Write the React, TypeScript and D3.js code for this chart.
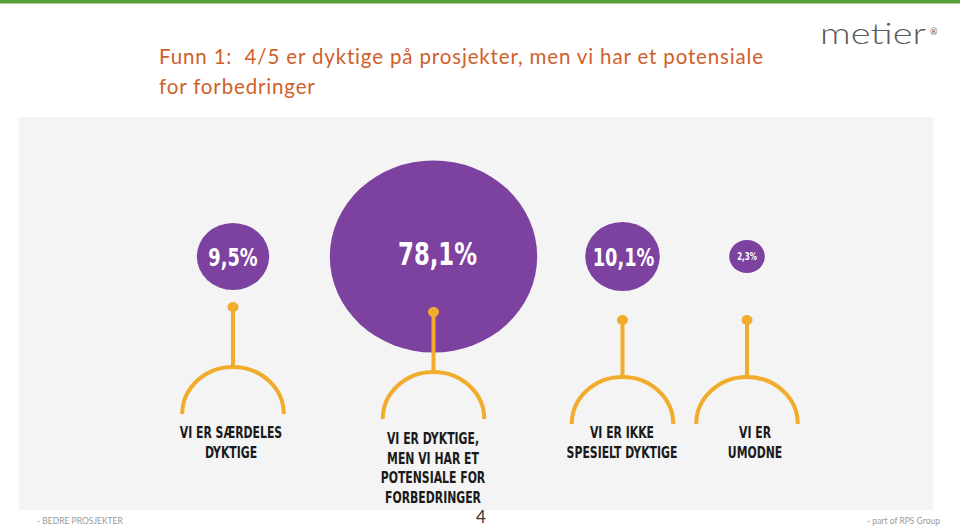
import React from "react";
import * as d3 from "d3";

// ---- data ----
const categories: string[][] = [
  ["VI ER SÆRDELES", "DYKTIGE"],
  ["VI ER DYKTIGE,", "MEN VI HAR ET", "POTENSIALE FOR", "FORBEDRINGER"],
  ["VI ER IKKE", "SPESIELT DYKTIGE"],
  ["VI ER", "UMODNE"],
];
const values = [9.5, 78.1, 10.1, 2.3];
const valueLabels = ["9,5%", "78,1%", "10,1%", "2,3%"];
const titleLines = [
  "Funn 1:\u00A0 4/5 er dyktige på prosjekter, men vi har et potensiale",
  "for forbedringer",
];
const footerLeft = "- BEDRE PROSJEKTER";
const footerRight = "- part of RPS Group";
const pageNumber = "4";
const logoText = "metier";

// ---- layout ----
const W = 960;
const H = 527;
const centerX = [233, 433.5, 622.5, 747];
const labelX = [231, 433, 622, 755];
const bubbleY = 256.5;
const dotY = [307, 312, 320, 320];
const arcTopY = [367, 372, 377, 377];
const labelFirstY = [432.5, 438.5, 432.5, 432.5];
const valueFontSize = [25, 32, 25, 10];
const valueDx = [0, 4, 1, 0];
const valueDy = [0, -3, 0, 0];
const xStretch = 1.08;
const arcR = 47;
const labelCondense = 0.78;
const valueCondense = 0.79;

const PURPLE = "#7d42a0";
const YELLOW = "#f1ac2c";
const ORANGE = "#d0602a";

export default function App() {
  const rScale = d3.scaleSqrt().domain([0, 78.1]).range([0, 96]);
  const arcPath = (() => {
    const p = d3.path();
    p.arc(0, 0, arcR, Math.PI, 2 * Math.PI);
    return p.toString();
  })();
  const labelFont = "'Liberation Sans Narrow', 'DejaVu Sans Condensed', 'DejaVu Sans', sans-serif";

  return (
    <svg
      width={W}
      height={H}
      style={{ position: "absolute", left: 0, top: 0, background: "#fff" }}
    >
      <rect x={0} y={0} width={W} height={H} fill="#ffffff" />
      <rect x={0} y={0} width={W} height={3} fill="#5a9e3c" />
      <rect x={0} y={3} width={W} height={1} fill="#a7cf8f" />

      {/* title */}
      <text
        fill={ORANGE}
        fontFamily="Lato, 'Open Sans', sans-serif"
        fontSize={20.5}
        letterSpacing={0.85}
      >
        {titleLines.map((t, i) => (
          <tspan key={i} x={159} y={64 + i * 30}>
            {t}
          </tspan>
        ))}
      </text>

      {/* logo */}
      <text
        x={820}
        y={44}
        fill="#5b5b5b"
        fontFamily="Lato, 'DejaVu Sans', sans-serif"
        fontWeight={300}
        fontSize={30}
        textLength={106}
        lengthAdjust="spacingAndGlyphs"
      >
        {logoText}
      </text>
      <text x={930} y={35} fill="#5b5b5b" fontFamily="Lato, sans-serif" fontSize={9}>
        ®
      </text>

      {/* panel */}
      <rect x={19} y={117} width={914} height={393} fill="#f4f4f4" />

      {values.map((v, i) => {
        const r = rScale(v);
        const cx = centerX[i];
        const fs = valueFontSize[i];
        return (
          <g key={i}>
            <ellipse cx={cx} cy={bubbleY} rx={r * xStretch} ry={r} fill={PURPLE} />
            <text
              transform={`translate(${cx + valueDx[i]},${bubbleY + fs * 0.36 + valueDy[i]}) scale(${valueCondense},1)`}
              textAnchor="middle"
              fill="#ffffff"
              fontFamily={labelFont}
              fontWeight={700}
              fontSize={fs}
            >
              {valueLabels[i]}
            </text>
            <line
              x1={cx}
              x2={cx}
              y1={dotY[i]}
              y2={arcTopY[i] + 1}
              stroke={YELLOW}
              strokeWidth={4}
            />
            <ellipse cx={cx} cy={dotY[i]} rx={5.5} ry={5} fill={YELLOW} />
            <g transform={`translate(${cx},${arcTopY[i] + arcR}) scale(${xStretch},1)`}>
              <path
                d={arcPath}
                fill="none"
                stroke={YELLOW}
                strokeWidth={4}
                vectorEffect="non-scaling-stroke"
              />
            </g>
            {categories[i].map((line, j) => (
              <text
                key={j}
                transform={`translate(${labelX[i]},${labelFirstY[i] + 5.5 + j * 19.6}) scale(${labelCondense},1)`}
                textAnchor="middle"
                fill="#1a1a1a"
                fontFamily={labelFont}
                fontWeight={700}
                fontSize={15.5}
              >
                {line}
              </text>
            ))}
          </g>
        );
      })}

      {/* footer */}
      <text x={37} y={524} fill="#9a9a9a" fontFamily="Lato, 'Open Sans', sans-serif" fontSize={8.5}>
        {footerLeft}
      </text>
      <text
        x={940}
        y={524}
        textAnchor="end"
        fill="#9a9a9a"
        fontFamily="Lato, 'Open Sans', sans-serif"
        fontSize={8.5}
      >
        {footerRight}
      </text>
      <text
        x={481}
        y={523}
        textAnchor="middle"
        fill="#333"
        fontFamily="Lato, 'Open Sans', sans-serif"
        fontSize={17}
      >
        {pageNumber}
      </text>
    </svg>
  );
}
